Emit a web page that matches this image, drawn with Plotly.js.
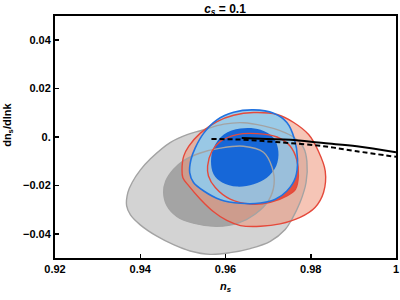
<!DOCTYPE html>
<html><head><meta charset="utf-8">
<script src="https://cdn.plot.ly/plotly-3.0.1.min.js"></script>
<style>html,body{margin:0;padding:0;background:#fff}#c{width:400px;height:300px}</style>
</head><body><div id="c"></div>
<script>
// Contour data (n_s, dn_s/dlnk)
const grayOuterX = [0.9368,0.9371,0.9381,0.9400,0.9424,0.9471,0.9510,0.9541,0.9596,0.9642,0.9689,0.9728,0.9760,0.9783,0.9791,0.9789,0.9775,0.9756,0.9740,0.9705,0.9658,0.9611,0.9564,0.9517,0.9478,0.9439,0.9400,0.9377];
const grayOuterY = [-0.0284,-0.0229,-0.0188,-0.0137,-0.0090,-0.0022,0.0010,0.0026,0.0053,0.0059,0.0046,0.0026,-0.0001,-0.0044,-0.0101,-0.0188,-0.0270,-0.0339,-0.0382,-0.0431,-0.0461,-0.0478,-0.0485,-0.0471,-0.0445,-0.0410,-0.0363,-0.0322];
const grayInnerX = [0.9455,0.9460,0.9478,0.9502,0.9541,0.9588,0.9642,0.9689,0.9709,0.9714,0.9701,0.9670,0.9631,0.9580,0.9525,0.9486,0.9463];
const grayInnerY = [-0.0229,-0.0182,-0.0134,-0.0097,-0.0066,-0.0046,-0.0038,-0.0063,-0.0124,-0.0195,-0.0263,-0.0318,-0.0355,-0.0369,-0.0356,-0.0328,-0.0284];
const redOuterX = [0.9498,0.9502,0.9514,0.9541,0.9580,0.9619,0.9666,0.9721,0.9760,0.9795,0.9818,0.9834,0.9830,0.9810,0.9775,0.9728,0.9682,0.9635,0.9603,0.9572,0.9541,0.9514,0.9500];
const redOuterY = [-0.0134,-0.0079,-0.0038,0.0016,0.0064,0.0090,0.0101,0.0093,0.0060,0.0010,-0.0059,-0.0141,-0.0229,-0.0291,-0.0332,-0.0359,-0.0369,-0.0366,-0.0345,-0.0309,-0.0257,-0.0202,-0.0168];
const redInnerX = [0.9558,0.9568,0.9588,0.9627,0.9674,0.9721,0.9752,0.9767,0.9771,0.9764,0.9744,0.9705,0.9658,0.9611,0.9576,0.9560];
const redInnerY = [-0.0120,-0.0059,-0.0018,0.0010,0.0014,0.0000,-0.0038,-0.0093,-0.0161,-0.0216,-0.0243,-0.0270,-0.0277,-0.0257,-0.0209,-0.0161];
const blueOuterX = [0.9516,0.9519,0.9529,0.9549,0.9580,0.9619,0.9666,0.9713,0.9744,0.9761,0.9769,0.9764,0.9744,0.9717,0.9682,0.9635,0.9588,0.9549,0.9525];
const blueOuterY = [-0.0147,-0.0093,-0.0045,0.0016,0.0071,0.0102,0.0112,0.0098,0.0060,-0.0004,-0.0093,-0.0168,-0.0223,-0.0257,-0.0273,-0.0274,-0.0259,-0.0223,-0.0188];
const blueInnerX = [0.9566,0.9572,0.9596,0.9635,0.9682,0.9713,0.9724,0.9719,0.9697,0.9666,0.9627,0.9592,0.9572];
const blueInnerY = [-0.0100,-0.0045,0.0010,0.0035,0.0030,-0.0004,-0.0059,-0.0120,-0.0168,-0.0195,-0.0205,-0.0188,-0.0154];
// Model predictions
const solidX = [0.9638,0.9697,0.9752,0.9830,0.9908,1.0];
const solidY = [-0.0004,-0.0008,-0.0011,-0.0025,-0.0038,-0.0063];
const dashedX = [0.9567,0.9638,0.9697,0.9752,0.9830,0.9908,1.0];
const dashedY = [-0.0008,-0.0011,-0.0018,-0.0025,-0.0038,-0.0059,-0.0082];
// Ticks
const xTickVals = [0.92,0.94,0.96,0.98,1.0];
const xTickText = ["0.92","0.94","0.96","0.98","1"];
const yTickVals = [-0.04,-0.02,0,0.02,0.04];
const yTickText = ["\u22120.04","\u22120.02","0.","0.02","0.04"];

function close(a){return a.concat([a[0]]);}
function bold(a){return a.map(t=>'<b>'+t+'</b>');}
function fillTrace(x,y,color){
  return {x:close(x),y:close(y),type:'scatter',mode:'lines',fill:'toself',fillcolor:color,
          line:{width:0,shape:'spline',smoothing:1,color:'rgba(0,0,0,0)'},hoverinfo:'skip'};
}
function lineTrace(x,y,color,w){
  return {x:close(x),y:close(y),type:'scatter',mode:'lines',
          line:{width:w,shape:'spline',smoothing:1,color:color},hoverinfo:'skip'};
}
const data = [
  fillTrace(grayOuterX,grayOuterY,'#d3d3d3'),
  fillTrace(grayInnerX,grayInnerY,'#a4a4a4'),
  fillTrace(redOuterX,redOuterY,'rgba(239,150,122,0.55)'),
  fillTrace(redInnerX,redInnerY,'rgba(228,62,45,0.85)'),
  fillTrace(blueOuterX,blueOuterY,'rgba(145,203,236,0.9)'),
  fillTrace(blueInnerX,blueInnerY,'#1667d8'),
  lineTrace(grayOuterX,grayOuterY,'#a3a3a3',1.4),
  lineTrace(grayInnerX,grayInnerY,'#a3a3a3',1.4),
  lineTrace(redOuterX,redOuterY,'#e5493b',1.4),
  lineTrace(redInnerX,redInnerY,'#e5493b',1.4),
  lineTrace(blueOuterX,blueOuterY,'#2173e0',1.6),
  {x:solidX,y:solidY,type:'scatter',mode:'lines',line:{color:'#000',width:2,shape:'spline'},hoverinfo:'skip'},
  {x:dashedX,y:dashedY,type:'scatter',mode:'lines',line:{color:'#000',width:2,dash:'5px,3px',shape:'spline'},hoverinfo:'skip'}
];
const fontFam = '"Liberation Sans", Arial, sans-serif';
const layout = {
  width:400,height:300,
  margin:{l:55,r:4,t:16,b:42},
  paper_bgcolor:'#fff',plot_bgcolor:'#fff',
  showlegend:false,hovermode:false,
  font:{family:fontFam,size:11,color:'#000'},
  title:{text:'<b><i>c</i><sub><i>s</i></sub> = 0.1</b>',font:{size:12,family:fontFam},x:0.5625,xanchor:'center',y:0.985,yanchor:'top'},
  xaxis:{range:[0.92,1.0],tickvals:xTickVals,ticktext:bold(xTickText),ticks:'inside',ticklen:4,tickwidth:1.5,tickcolor:'#000',
         showline:true,linecolor:'#000',linewidth:2,mirror:true,showgrid:false,zeroline:false,
         tickfont:{size:11,family:fontFam},
         title:{text:'<b><i>n</i><sub><i>s</i></sub></b>',font:{size:11,family:fontFam},standoff:8}},
  yaxis:{range:[-0.05,0.05],tickvals:yTickVals,ticktext:bold(yTickText),ticks:'inside',ticklen:4,tickwidth:1.5,tickcolor:'#000',
         showline:true,linecolor:'#000',linewidth:2,mirror:true,showgrid:false,zeroline:false,
         tickfont:{size:11,family:fontFam}},
  annotations:[{text:'<b>dn<sub>s</sub>/dlnk</b>',xref:'paper',yref:'paper',x:-0.138,y:0.55,
                xanchor:'center',yanchor:'middle',textangle:-90,showarrow:false,font:{size:11,family:fontFam}}]
};
Plotly.newPlot('c',data,layout,{staticPlot:true,displayModeBar:false});
</script></body></html>
